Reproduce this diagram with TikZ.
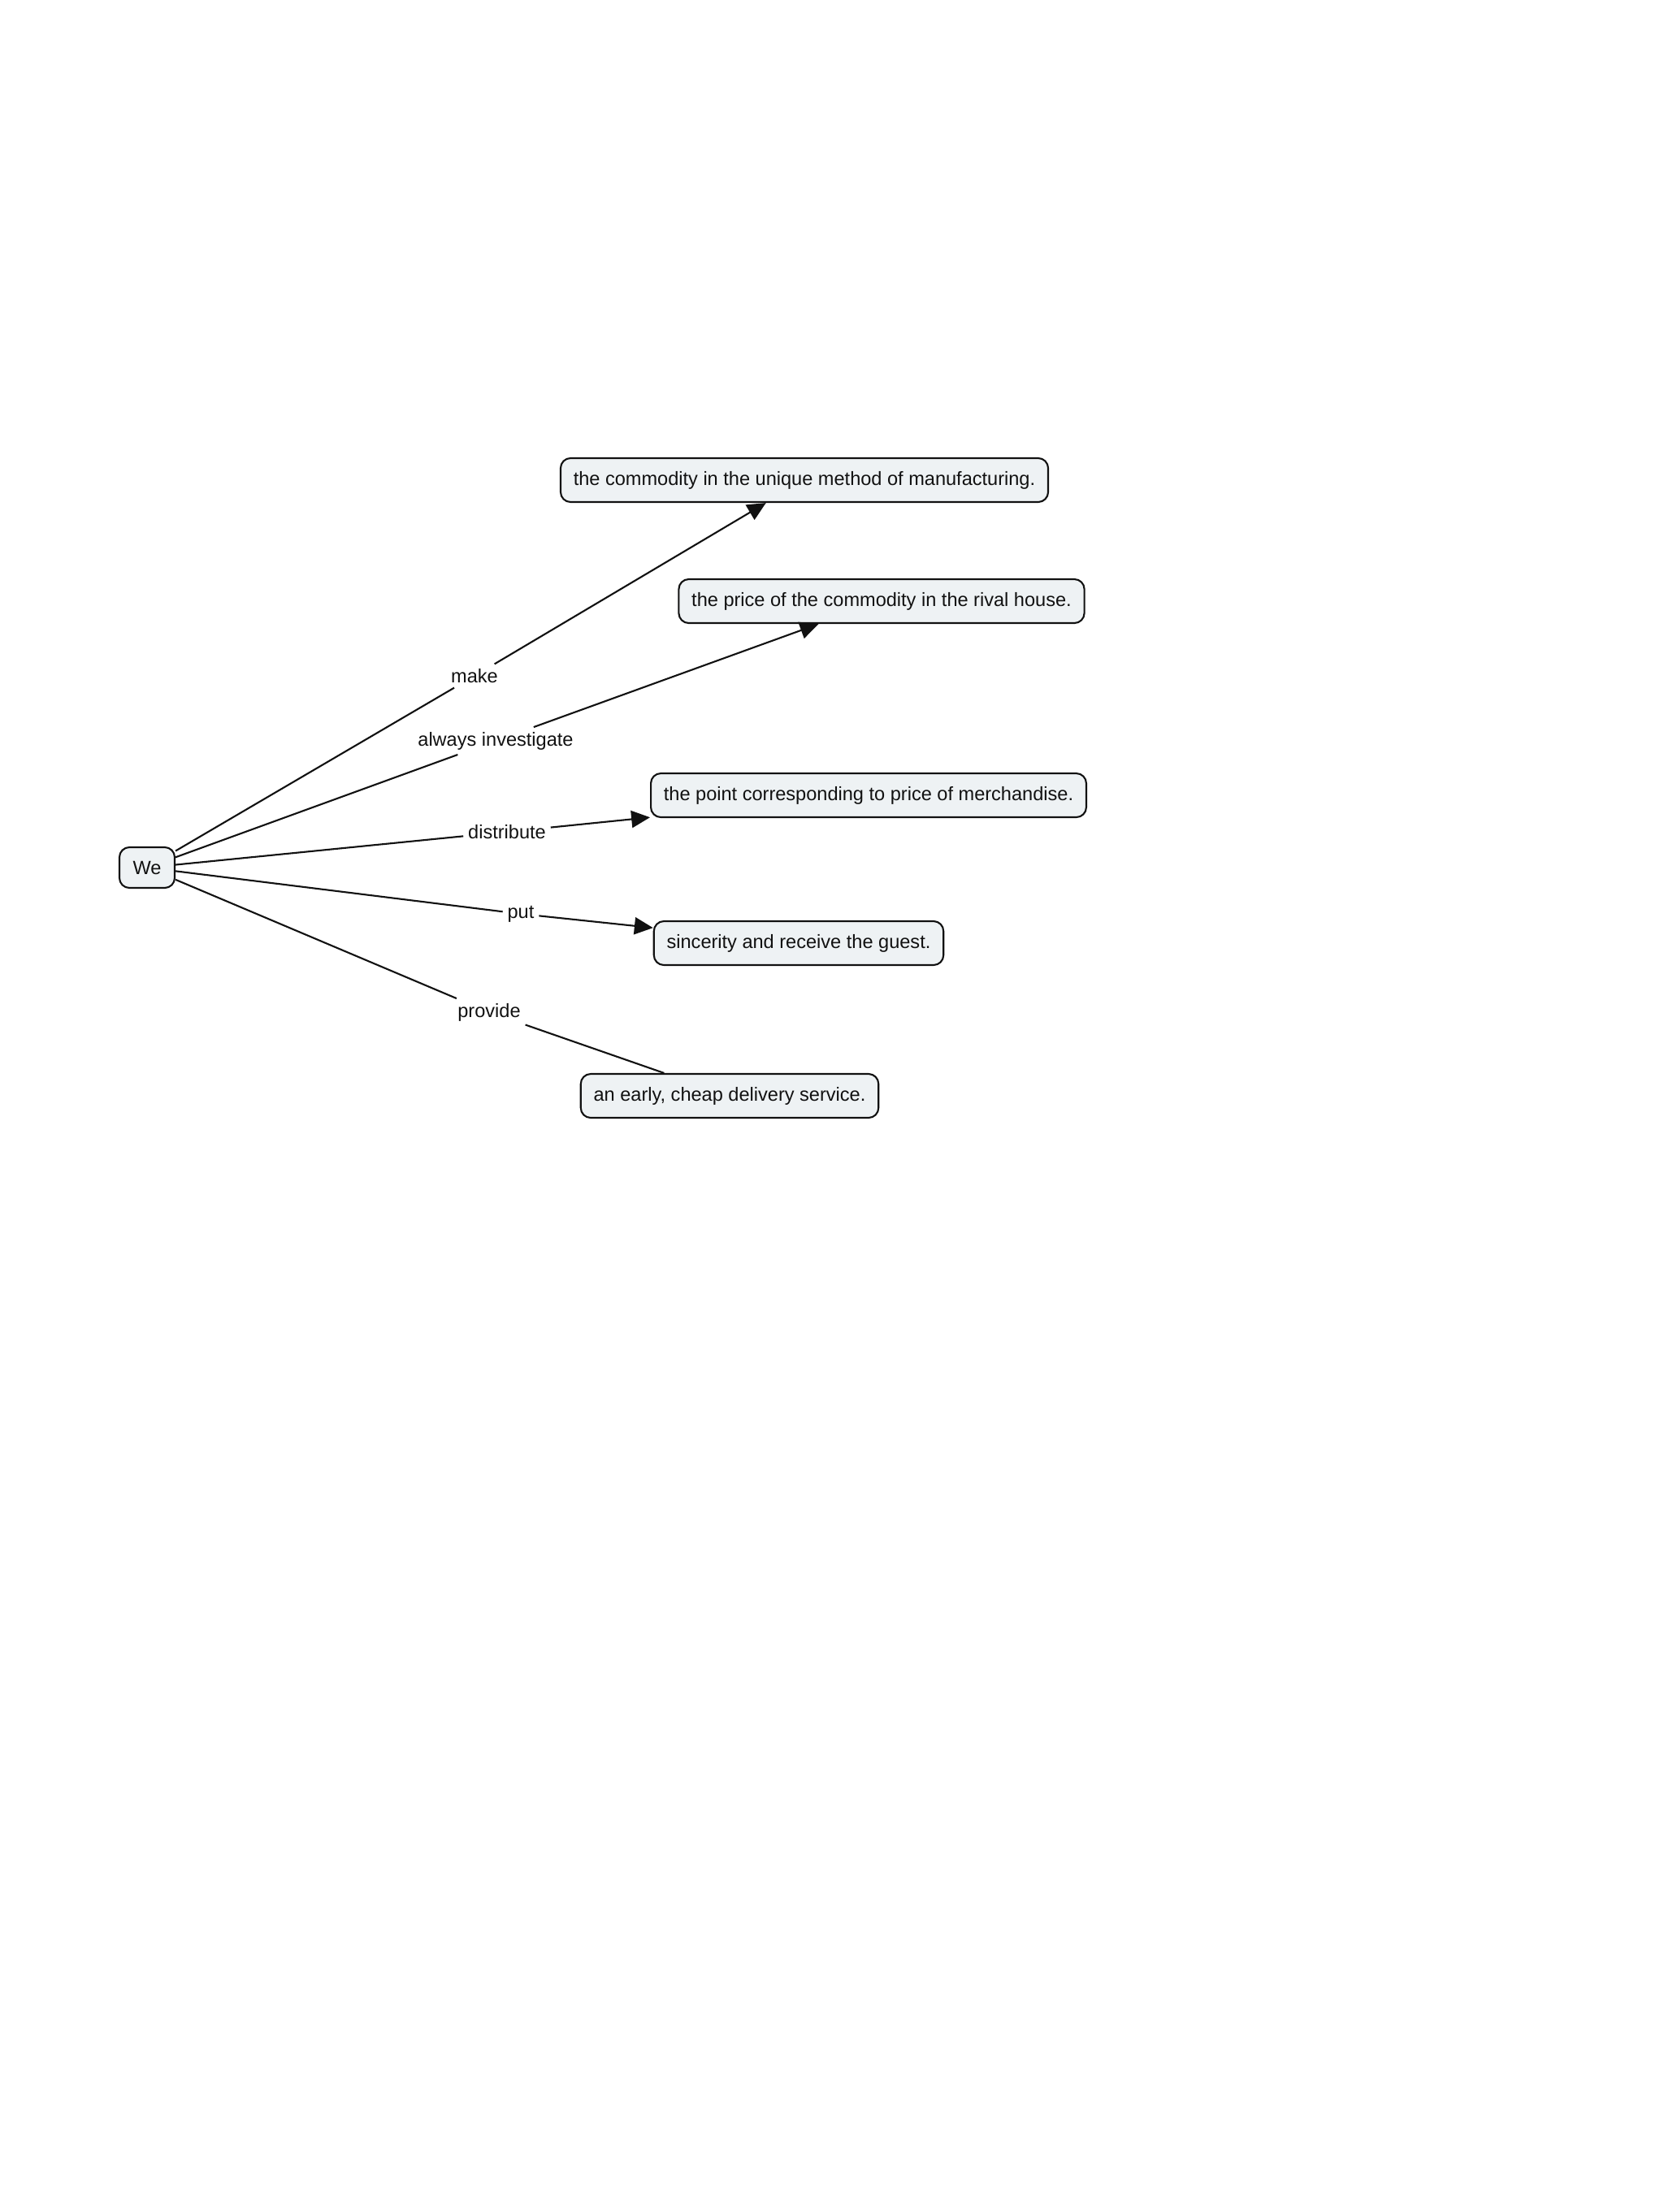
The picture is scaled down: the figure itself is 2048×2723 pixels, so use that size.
\documentclass[tikz,border=0pt]{standalone}
\usepackage{fontspec}
\setmainfont{Liberation Sans}
\usepackage{tikz}
\usetikzlibrary{arrows.meta}
\definecolor{ink}{HTML}{111111}
\definecolor{cfill}{HTML}{EEF2F4}
\tikzset{
  concept/.style={draw=ink,fill=cfill,rounded corners=3.5pt,line width=0.6pt,inner xsep=4.5pt,minimum height=0.54cm,font=\fontsize{6.7}{8}\selectfont,text=ink},
  lbl/.style={inner sep=1.5pt,font=\fontsize{6.7}{8}\selectfont,text=ink},
  link/.style={line width=0.6pt,color=ink},
  arrow/.style={link,-{Triangle[length=6.5pt,width=6pt]}},
}

\begin{document}
\begin{tikzpicture}[x=0.01cm,y=-0.01cm]
    \useasboundingbox (0,0) rectangle (2048,2723);
    % concepts
    \node[concept,minimum width=0.68cm,minimum height=0.5cm] (we) at (181,1068) {We};
    \node[concept] (method) at (990,591) {the commodity in the unique method of manufacturing.};
    \node[concept] (price) at (1085,740) {the price of the commodity in the rival house.};
    \node[concept] (point) at (1069,979) {the point corresponding to price of merchandise.};
    \node[concept] (guest) at (983,1161) {sincerity and receive the guest.};
    \node[concept] (service) at (898,1349) {an early, cheap delivery service.};
    % linking phrases
    \node[lbl] (make) at (584,832) {make};
    \node[lbl] (inv) at (610,912) {always investigate};
    \node[lbl] (dist) at (624,1024) {distribute};
    \node[lbl] (put) at (641,1125) {put};
    \node[lbl] (prov) at (602,1246) {provide};
    % links
    \foreach \l in {make,inv,dist,put,prov} \draw[link] (we) -- (\l);
    \draw[arrow] (make) -- (method);
    \draw[arrow] (inv) -- (price);
    \draw[arrow] (dist) -- (point);
    \draw[arrow] (put) -- (guest);
    \draw[link] (prov) -- (service);
\end{tikzpicture}
\end{document}
